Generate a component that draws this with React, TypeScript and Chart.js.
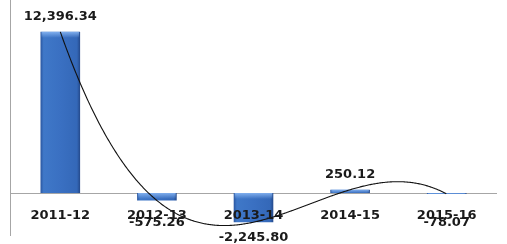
import React, { useEffect, useRef } from "react";
import { Chart, registerables } from "chart.js";

Chart.register(...registerables);

// ---- data ----
const categories = ["2011-12", "2012-13", "2013-14", "2014-15", "2015-16"];
const values = [12396.34, -575.26, -2245.8, 250.12, -78.07];
const yMin = -3000;
const yMax = 13000;
const trendlineOrder = 4; // Excel polynomial trendline of the series

function fmt(v: number) {
  return v.toLocaleString("en-US", { minimumFractionDigits: 2, maximumFractionDigits: 2 });
}

// least-squares polynomial fit on x = 1..n (Excel trendline)
function polyfit(ys: number[], order: number): number[] {
  const n = order + 1;
  const A: number[][] = [];
  for (let r = 0; r < n; r++) {
    const row: number[] = [];
    for (let c = 0; c < n; c++) {
      let s = 0;
      ys.forEach((_, i) => (s += Math.pow(i + 1, r + c)));
      row.push(s);
    }
    let b = 0;
    ys.forEach((y, i) => (b += y * Math.pow(i + 1, r)));
    row.push(b);
    A.push(row);
  }
  for (let i = 0; i < n; i++) {
    let p = i;
    for (let k = i + 1; k < n; k++) if (Math.abs(A[k][i]) > Math.abs(A[p][i])) p = k;
    [A[i], A[p]] = [A[p], A[i]];
    for (let k = i + 1; k < n; k++) {
      const f = A[k][i] / A[i][i];
      for (let j = i; j <= n; j++) A[k][j] -= f * A[i][j];
    }
  }
  const coef = new Array(n).fill(0);
  for (let i = n - 1; i >= 0; i--) {
    let s = A[i][n];
    for (let j = i + 1; j < n; j++) s -= A[i][j] * coef[j];
    coef[i] = s / A[i][i];
  }
  return coef;
}

const FONT = "bold 13px 'DejaVu Sans', Verdana, sans-serif";
const BAR_PCT = 0.41;

const overlayPlugin = {
  id: "overlay",
  beforeDatasetsDraw(chart: any) {
    const { ctx, chartArea, scales } = chart;
    const y0 = scales.y.getPixelForValue(0);
    ctx.save();
    ctx.strokeStyle = "#a6a6a6";
    ctx.lineWidth = 1;
    ctx.beginPath();
    ctx.moveTo(chartArea.left - 1.5, 0);
    ctx.lineTo(chartArea.left - 1.5, 236);
    ctx.moveTo(chartArea.left - 1.5, Math.round(y0) + 0.5);
    ctx.lineTo(chartArea.right + 2, Math.round(y0) + 0.5);
    ctx.stroke();
    ctx.restore();
  },
  afterDatasetsDraw(chart: any) {
    const { ctx, scales } = chart;
    const xs = scales.x;
    const ys = scales.y;
    const y0 = ys.getPixelForValue(0);

    // bevel highlight on top edge of each bar
    const meta = chart.getDatasetMeta(0);
    ctx.save();
    meta.data.forEach((el: any) => {
      const { x, y, base, width } = el.getProps(["x", "y", "base", "width"], true);
      const top = Math.min(y, base);
      const h = Math.abs(base - y);
      const bh = Math.min(6, h);
      if (bh <= 0) return;
      const g = ctx.createLinearGradient(0, top, 0, top + bh);
      g.addColorStop(0, "rgba(140,185,245,0.85)");
      g.addColorStop(1, "rgba(140,185,245,0)");
      ctx.fillStyle = g;
      ctx.fillRect(x - width / 2 + 1, top, width - 2, bh);
    });
    ctx.restore();

    // polynomial trendline
    const coef = polyfit(values, trendlineOrder);
    const evalP = (x: number) => coef.reduce((s, c, i) => s + c * Math.pow(x, i), 0);
    const xa = xs.getPixelForValue(0);
    const xb = xs.getPixelForValue(values.length - 1);
    ctx.save();
    ctx.strokeStyle = "#111";
    ctx.lineWidth = 1.1;
    ctx.beginPath();
    for (let px = xa; px <= xb + 0.01; px += 1) {
      const t = 1 + ((px - xa) / (xb - xa)) * (values.length - 1);
      const py = ys.getPixelForValue(evalP(t));
      if (px === xa) ctx.moveTo(px, py);
      else ctx.lineTo(px, py);
    }
    ctx.stroke();

    // labels
    ctx.font = FONT;
    ctx.fillStyle = "#1a1a1a";
    ctx.textAlign = "center";
    ctx.textBaseline = "middle";
    categories.forEach((c, i) => {
      ctx.fillText(c, xs.getPixelForValue(i), y0 + 23);
    });
    values.forEach((v, i) => {
      const cx = xs.getPixelForValue(i);
      const end = ys.getPixelForValue(v);
      const ly = v >= 0 ? end - 15 : Math.max(end + 15, y0 + 30);
      ctx.fillText(fmt(v), cx, ly);
    });
    ctx.restore();
  },
};

export default function App() {
  const ref = useRef<HTMLCanvasElement>(null);
  useEffect(() => {
    if (!ref.current) return;
    const chart = new Chart(ref.current, {
      type: "bar",
      data: {
        labels: categories,
        datasets: [
          {
            data: values,
            categoryPercentage: 1,
            barPercentage: BAR_PCT,
            borderWidth: 0,
            backgroundColor: (c: any) => {
              const ch = c.chart;
              if (!ch.chartArea || c.dataIndex === undefined) return "#3a70c2";
              const xs = ch.scales.x;
              const cx = xs.getPixelForValue(c.dataIndex);
              const w = (xs.width / categories.length) * BAR_PCT;
              const g = ch.ctx.createLinearGradient(cx - w / 2, 0, cx + w / 2, 0);
              g.addColorStop(0, "#2a56a0");
              g.addColorStop(0.08, "#3f78c8");
              g.addColorStop(0.5, "#3a70c2");
              g.addColorStop(0.92, "#3468b8");
              g.addColorStop(1, "#24498a");
              return g;
            },
          },
        ],
      },
      options: {
        animation: false,
        responsive: false,
        layout: { padding: { top: 24, bottom: 12, left: 12, right: 12 } },
        plugins: { legend: { display: false }, tooltip: { enabled: false } },
        scales: {
          x: { display: false },
          y: { display: false, min: yMin, max: yMax },
        },
      },
      plugins: [overlayPlugin],
    });
    return () => chart.destroy();
  }, []);
  return (
    <div style={{ position: "fixed", left: 0, top: 0, width: 507, height: 244, background: "#fff" }}>
      <canvas ref={ref} width={507} height={244} style={{ display: "block" }} />
    </div>
  );
}
